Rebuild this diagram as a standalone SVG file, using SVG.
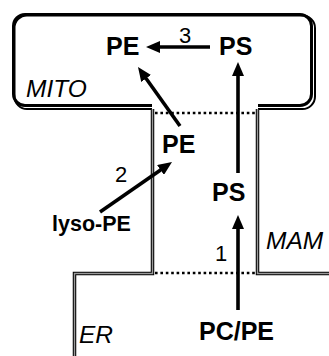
<svg xmlns="http://www.w3.org/2000/svg" width="329" height="356" viewBox="0 0 329 356">
<defs>
<style>
.lbl{font-family:"Liberation Sans",Arial,sans-serif;font-weight:bold;font-size:25px;fill:#000}
.it{font-family:"Liberation Sans",Arial,sans-serif;font-style:italic;font-size:24.5px;fill:#000}
.num{font-family:"Liberation Sans",Arial,sans-serif;font-size:22px;fill:#000}
.arr{stroke:#000;stroke-width:3.6;fill:none;marker-end:url(#ah)}
.wallb{stroke:#000;stroke-width:3.5;fill:none}
.wallg{stroke:#999;stroke-width:1.4;fill:none}
.dot{stroke:#000;stroke-width:2.6;stroke-dasharray:2.6 2.8;fill:none}
</style>
<marker id="ah" markerUnits="userSpaceOnUse" markerWidth="16" markerHeight="12" refX="4" refY="6" orient="auto">
<path d="M0,0 L14,6 L0,12 z" fill="#000"/>
</marker>
</defs>
<rect width="329" height="356" fill="#fff"/>
<g id="mito">
<path d="M152,105.5 H25 A11.5,11.5 0 0 1 13.5,94 V26 A11.5,11.5 0 0 1 25,14.5 H300 A11.5,11.5 0 0 1 311.5,26 V94 A11.5,11.5 0 0 1 300,105.5 H258" stroke="#000" stroke-width="3" fill="none"/>
<path d="M152,109 H27 A12.5,12.5 0 0 1 14.5,96.5 V28 A12.5,12.5 0 0 1 27,15.5 H302.5 A12.5,12.5 0 0 1 315,28 V96.5 A12.5,12.5 0 0 1 302.5,109 H258" stroke="#000" stroke-width="2" fill="none"/>
<text class="it" x="26" y="97">MITO</text>
</g>
<g id="membranes">
<path class="wallb" d="M74.5,356 V273.5 H152.5 V109"/>
<path class="wallg" d="M74.5,356 V273.5 H152.5 V109"/>
<path class="wallb" d="M257.5,109 V273.5 H329"/>
<path class="wallg" d="M257.5,109 V273.5 H329"/>
<path class="dot" d="M155,113 H256"/>
<path class="dot" d="M155,273 H256"/>
<text class="it" x="266" y="249">MAM</text>
<text class="it" x="79" y="343">ER</text>
</g>
<g id="node-pe-mito"><text class="lbl" x="106" y="55">PE</text></g>
<g id="node-ps-mito"><text class="lbl" x="219" y="55">PS</text></g>
<g id="node-pe-mam"><text class="lbl" x="162" y="153">PE</text></g>
<g id="node-ps-mam"><text class="lbl" x="212" y="201">PS</text></g>
<g id="node-lyso-pe"><text class="lbl" x="52" y="231" style="font-size:21.5px">lyso-PE</text></g>
<g id="node-pc-pe"><text class="lbl" x="199" y="340">PC/PE</text></g>
<g id="connectors">
<path class="arr" d="M210,47 H156"/>
<path class="arr" d="M180,126 L143.8,75.2"/>
<path class="arr" d="M238,173 V72"/>
<path class="arr" d="M100,212 L163.8,167.7"/>
<path class="arr" d="M238,310 V225"/>
<text class="num" x="179" y="43">3</text>
<text class="num" x="115" y="182">2</text>
<text class="num" x="215" y="261">1</text>
</g>
</svg>
